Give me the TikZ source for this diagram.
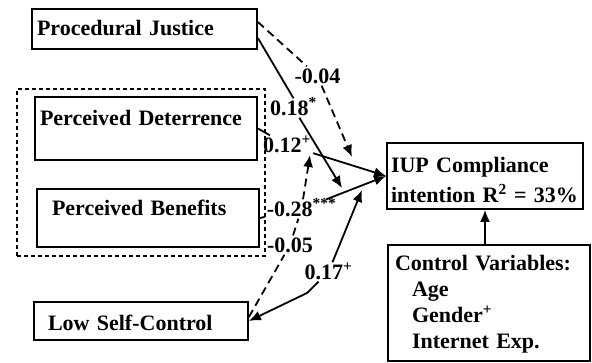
\documentclass[tikz,border=0pt]{standalone}
\usepackage{fontspec}
\setmainfont{Liberation Serif}
\usetikzlibrary{arrows.meta}
\tikzset{
  % boxed variables
  var/.style={draw, line width=1.8pt, align=left, inner ysep=0pt},
  % dashed frame round the two perceptions
  group/.style={draw, line width=1.1pt, dash pattern=on 4pt off 3pt, inner sep=0pt},
  % path coefficients
  coef/.style={inner sep=2pt, text height=15pt, text depth=0pt},
  % significant and non-significant paths
  effect/.style={line width=1.8pt},
  nsig/.style={line width=1.8pt, dash pattern=on 8pt off 5pt},
}

\begin{document}
\begin{tikzpicture}[x=1pt, y=-1pt, >={Latex[length=12pt,width=10pt]},
    font=\fontsize{22}{26}\selectfont\bfseries]
  \useasboundingbox (0,0) rectangle (592,363);

  \node[var, text width=215pt, inner xsep=5pt, text height=26.3pt, text depth=13.7pt] (pj) at (144.5,29) {Procedural Justice};

  \node[group, minimum width=248pt, minimum height=167pt] (grp) at (141,172.5) {};

  \node[var, text width=212pt, inner xsep=5pt, text height=28.3pt, text depth=34.7pt] (pd) at (146,128.5) {Perceived Deterrence};

  \node[var, text width=192pt, inner xsep=15pt, text height=26.3pt, text depth=31.7pt] (pb) at (148,218) {Perceived Benefits};

  \node[var, text width=186pt, inner xsep=14pt, text height=28.3pt, text depth=9.7pt] (lsc) at (141,321) {Low Self-Control};

  \node[var, text width=188pt, inner xsep=4pt, text height=29.3pt, text depth=36.7pt,
    font=\fontsize{22}{30}\selectfont\bfseries] (iup) at (485,176) {IUP Compliance\\intention R\textsuperscript{2} = 33\%};

  \node[var, text width=188pt, inner xsep=7pt, text height=25.3pt, text depth=90.7pt] (ctrl) at (489,303)
    {Control Variables:\\\hspace*{17pt}Age\\\hspace*{17pt}Gender\textsuperscript{+}\\\hspace*{17pt}Internet Exp.};

  % coefficients
  \node[coef] (l04) at (317.5,76) {-0.04};
  \node[coef] (l18) at (293.5,108) {0.18\textsuperscript{*}};
  \node[coef] (l12) at (287,145) {0.12\textsuperscript{+}};
  \node[coef] (l28) at (301.5,209) {-0.28\textsuperscript{***}};
  \node[coef] (l05) at (290,245) {-0.05};
  \node[coef] (l17) at (328.5,272) {0.17\textsuperscript{+}};

  \coordinate (pjtip) at (352,157);
  \coordinate (pjstip) at (342,188);
  \coordinate (lscbend) at (307,293);
  \coordinate (lsctip) at (362,190);
  \coordinate (dtip) at (310,155);

  \draw[nsig] ([yshift=7pt]pj.east) -- (l04);
  \draw[nsig, ->] (l04) -- (pjtip);
  \draw[effect] ([yshift=-9pt]pj.east) -- (l18.north);
  \draw[effect, ->] (l18) -- (pjstip);

  \draw[effect] (pd.east) -- (l12);
  \draw[effect, ->] (l12) -- (iup.west);
  \draw[effect] (pb.east) -- (l28);
  \draw[effect, ->] (l28) -- (iup.west);

  \draw[effect, <-] (lsc.east) -- (lscbend) -- (l17);
  \draw[effect, ->] (l17) -- (lsctip);
  \draw[nsig] ([yshift=4pt]lsc.east) -- (l05);
  \draw[nsig] (l05) -- (l28);
  \draw[nsig, ->] (l28) -- (dtip);

  \draw[effect, ->] (ctrl.north -| iup.south) -- (iup.south);
\end{tikzpicture}
\end{document}
